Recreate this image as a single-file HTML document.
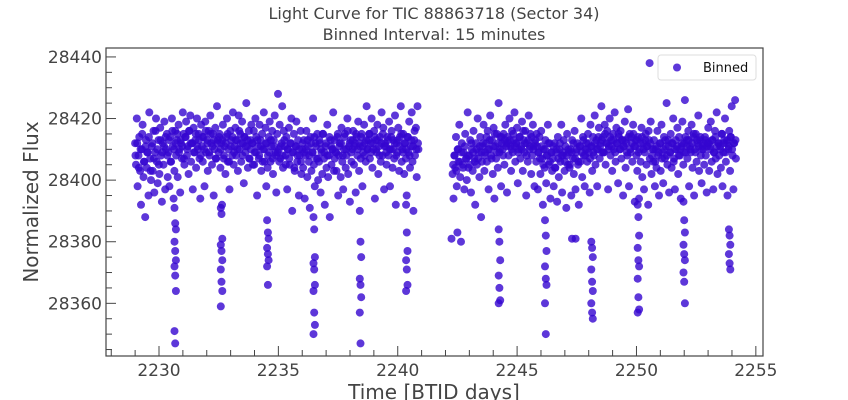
<!DOCTYPE html>
<html><head><meta charset="utf-8">
<style>
html,body{margin:0;padding:0;background:#fff;}
svg{display:block;font-family:"DejaVu Sans","Liberation Sans",sans-serif;}
</style></head>
<body>
<svg id="chart" width="848" height="400" viewBox="0 0 848 400"></svg>
<script>
// ---- data ----
const segStart = [2229.0, 2242.3];
const segStep = [0.035, 0.035];
const segStep2 = [0.07, 0.07];
const fluxBase = 28400;
const fluxOffsetA = [
12,5,20,-2,8,14,3,-8,10,18,1,6,-12,13,4,9,-5,22,7,0,
11,3,16,-4,9,20,6,-1,13,2,17,8,-7,12,5,19,-3,10,15,1,
9,-2,14,6,20,11,-6,3,16,8,13,1,18,10,-4,12,7,22,15,5,
14,19,8,11,2,16,21,6,12,-3,17,9,13,4,20,10,15,7,-6,18,
11,6,14,-2,19,9,13,3,16,8,21,12,5,15,-5,10,17,7,24,13,
9,15,4,12,-8,18,7,11,2,14,20,6,10,-3,16,13,8,22,5,11,
17,8,13,3,21,10,15,6,19,12,-1,14,9,25,11,4,16,7,13,18,
12,5,16,9,20,14,-5,11,7,18,13,3,15,10,22,6,17,-2,12,8,
14,19,6,11,16,2,13,21,9,-4,15,28,10,18,7,12,24,4,16,11,
8,14,-3,10,17,5,12,20,-10,9,15,3,11,19,6,13,-5,8,16,2,
10,4,13,-6,8,16,1,11,6,-9,14,3,9,20,5,-2,12,7,15,0,
6,12,-4,9,2,15,7,-8,11,4,18,1,8,-12,13,5,10,22,3,7,
9,3,14,-5,8,12,1,17,6,-3,10,15,4,8,20,2,11,-7,13,6,
10,16,5,12,-4,14,8,19,3,11,7,15,-2,9,18,12,6,24,10,13,
15,7,12,20,4,10,16,-6,13,9,18,2,11,14,6,22,8,17,-3,12,
11,5,14,8,19,-2,10,16,4,13,7,21,-8,12,9,17,3,14,24,6,
10,15,2,12,7,-5,14,9,19,4,11,22,6,-10,13,8,17,1,24,10];
const fluxOffsetB = [
2,-6,8,4,14,-2,10,6,18,1,-20,12,5,9,-3,15,7,0,22,4,
8,13,-4,10,3,16,7,-8,12,5,20,9,1,14,-12,6,11,18,3,9,
12,6,16,-3,10,21,8,13,2,17,-6,11,7,15,4,25,9,14,-2,12,
10,15,5,18,12,-4,14,8,20,11,3,16,9,13,22,6,12,17,-1,10,
14,7,11,19,3,13,9,16,-5,12,6,21,10,15,2,8,18,11,-2,13,
6,11,-3,9,14,2,16,7,-8,10,4,13,-1,8,18,5,12,-6,9,3,
7,-2,12,4,9,-7,14,1,10,6,18,-4,8,13,3,11,-9,15,5,9,
4,10,-5,13,7,2,16,-3,9,12,5,-8,11,6,20,1,14,8,-2,10,
12,6,15,9,-4,18,11,3,14,8,21,5,13,-2,10,17,7,12,24,9,
14,9,18,5,12,16,-3,11,20,8,13,3,15,10,22,6,17,12,-1,14,
10,16,7,13,-5,11,19,4,12,8,23,-2,15,9,14,6,18,11,-7,13,
8,3,14,-6,10,6,17,1,12,-3,9,15,5,11,-8,13,7,19,2,10,
6,13,-2,10,4,16,8,-5,12,3,18,9,-1,14,7,11,25,5,13,-4,
9,15,4,12,20,7,-3,13,10,17,2,14,8,-6,11,19,5,12,26,9,
13,7,16,-2,11,9,18,4,14,-5,10,15,6,12,21,3,13,8,-1,11,
10,5,14,8,-4,12,17,3,11,19,6,13,-3,9,16,7,22,2,12,8,
11,4,15,-2,9,13,20,6,12,-5,10,16,3,14,24,8,-3,12,26,7];
const fluxOffsetA2 = [
8,12,4,10,15,6,11,9,14,3,12,7,16,10,5,13,9,
11,14,8,13,6,16,10,12,15,9,13,11,7,14,10,16,12,
12,9,15,11,13,8,14,10,16,12,9,15,11,13,7,12,14,
10,13,8,12,15,6,11,14,9,13,10,16,12,8,14,11,13,
7,10,12,5,9,13,8,11,6,10,12,4,9,13,7,11,8,
9,6,11,8,13,5,10,7,12,9,4,11,8,10,6,12,9,
10,13,8,12,9,14,11,7,13,10,15,9,12,8,14,11,10,
13,9,15,11,12,8,14,10,16,12,9,13,11,15,10,12,14,
11,8,13,10,15,9,12,14,10,13,8,12,15,11,9,13,10,
14,10,12,8,13,11,15,9,12,10,14,8,13,11,16,10,12];
const fluxOffsetB2 = [
5,8,3,10,6,9,4,11,7,8,5,12,9,6,10,7,11,
9,12,8,14,10,13,7,11,15,9,12,10,14,8,13,11,12,
13,10,15,11,12,9,14,10,16,12,8,13,11,14,10,12,15,
9,7,11,5,10,8,12,6,9,11,4,10,7,12,8,9,6,
8,10,5,9,12,7,10,6,11,9,13,8,10,12,7,11,9,
12,10,14,11,13,9,15,12,10,14,11,13,9,12,15,10,13,
11,13,9,14,10,12,15,11,13,9,12,14,10,13,11,16,12,
8,10,6,11,9,12,7,10,13,8,11,9,12,6,10,11,8,
10,12,9,14,11,13,10,12,15,9,13,11,14,10,12,13,11,
12,10,13,9,14,11,12,10,15,12,9,13,11,14,10,12,13];
const dipTimes = [2230.68,2232.62,2234.56,2236.5,2238.44,2240.38,2244.26,2246.2,2248.14,2250.08,2252.0,2253.9];
const dipFlux = [
[28391,28386,28384,28380,28377,28374,28372,28369,28364,28351,28347],
[28391,28389,28381,28379,28377,28374,28371,28367,28364,28359],
[28387,28383,28381,28378,28376,28374,28372,28366],
[28388,28384,28375,28373,28371,28366,28364,28357,28353,28350],
[28390,28380,28375,28368,28366,28362,28357,28347],
[28392,28383,28377,28374,28371,28366,28364],
[28384,28380,28374,28369,28365,28361,28360],
[28387,28382,28377,28372,28368,28366,28360,28350],
[28380,28378,28375,28371,28367,28364,28360,28357,28355],
[28392,28388,28382,28378,28374,28372,28368,28362,28358,28357],
[28393,28387,28383,28379,28376,28374,28370,28367,28360],
[28384,28382,28379,28376,28373,28371]];
const extraTimes = [2250.55,2242.25,2247.3,2247.45,2242.5];
const extraFlux = [28438,28381,28381,28381,28383];
const xTicks = [2230,2235,2240,2245,2250,2255];
const yTicks = [28360,28380,28400,28420,28440];

// ---- axes ----
const L=106,R=763,T=48,B=356;
const xMin=2227.78,xMax=2255.3,yMin=28342.9,yMax=28442.9;
const xs=t=>L+(t-xMin)/(xMax-xMin)*(R-L);
const ys=f=>B-(f-yMin)/(yMax-yMin)*(B-T);
const NS="http://www.w3.org/2000/svg";
const svg=document.getElementById('chart');
function mk(tag,attrs,parent){const e=document.createElementNS(NS,tag);for(const k in attrs)e.setAttribute(k,attrs[k]);(parent||svg).appendChild(e);return e;}

// title
const t1=mk('text',{x:434,y:19,'text-anchor':'middle','font-size':16,fill:'#444'});t1.textContent='Light Curve for TIC 88863718 (Sector 34)';


const t2=mk('text',{x:434,y:40,'text-anchor':'middle','font-size':16,fill:'#444'});t2.textContent='Binned Interval: 15 minutes';



// points
const pts=mk('g',{fill:'#3505d0','fill-opacity':0.8});


function dot(t,f){const c=mk('circle',{cx:xs(t).toFixed(1),cy:ys(f).toFixed(1),r:4},pts);

}
[fluxOffsetA,fluxOffsetB].forEach((arr,s)=>arr.forEach((v,i)=>dot(segStart[s]+i*segStep[s],fluxBase+v)));
[fluxOffsetA2,fluxOffsetB2].forEach((arr,s)=>arr.forEach((v,i)=>dot(segStart[s]+0.0175+i*segStep2[s],fluxBase+v)));
dipTimes.forEach((t,d)=>dipFlux[d].forEach((f,j)=>dot(t+((j%3)-1)*0.03,f)));
extraTimes.forEach((t,i)=>dot(t,extraFlux[i]));

// frame
const fr=mk('rect',{x:L,y:T,width:R-L,height:B-T,fill:'none',stroke:'#444','stroke-width':1.2});



// x ticks
for(let d=2228;d<=2255;d++){const x=xs(d);const major=d%5===0;
const tk=mk('line',{x1:x,x2:x,y1:B,y2:B-(major?10:6),stroke:'#444','stroke-width':1});

}
xTicks.forEach(v=>{const tx=mk('text',{x:xs(v),y:B+20,'text-anchor':'middle','font-size':17,fill:'#444'});tx.textContent=v;

});
// y ticks
for(let v=28345;v<=28440;v+=5){const y=ys(v);const major=v%20===0;
const tk=mk('line',{x1:L,x2:L+(major?10:6),y1:y,y2:y,stroke:'#444','stroke-width':1});

}
yTicks.forEach(v=>{const tx=mk('text',{x:L-4,y:ys(v)+6,'text-anchor':'end','font-size':17,fill:'#444'});tx.textContent=v;

});

// axis titles
const xl=mk('text',{x:434,y:399,'text-anchor':'middle','font-size':20,fill:'#444'});xl.textContent='Time [BTID days]';


const yl=mk('text',{x:0,y:0,'text-anchor':'middle','font-size':20,fill:'#444',transform:'translate(38,202) rotate(-90)'});yl.textContent='Normalized Flux';



// legend
const lg=mk('g',{});


mk('rect',{x:658,y:55,width:98,height:25,rx:3,fill:'#fff','fill-opacity':0.85,stroke:'#ddd'},lg);
const lm=mk('circle',{cx:677,cy:67.5,r:4,fill:'#3505d0','fill-opacity':0.8},lg);


const lt=mk('text',{x:703,y:72,'font-size':13,fill:'#111'},lg);lt.textContent='Binned';


</script>
</body></html>
